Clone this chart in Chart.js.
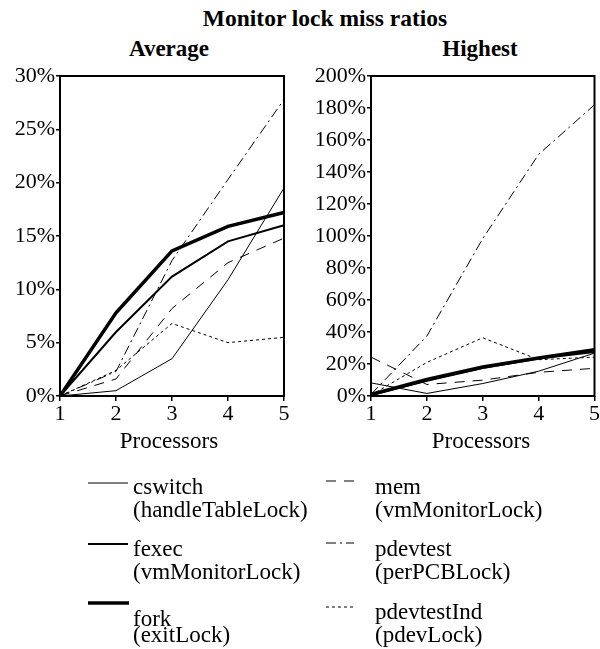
<!DOCTYPE html>
<html>
<head>
<meta charset="utf-8">
<script src="https://cdn.jsdelivr.net/npm/chart.js@4.4.1/dist/chart.umd.min.js"></script>
<style>
  body { margin: 0; background: #fff; }
  #page { position: relative; width: 600px; height: 649px; color: #000; }
  .txt { position: absolute; white-space: nowrap; transform: translateY(-50%); font-family: 'Liberation Serif', 'Times New Roman', serif; font-size: 23px; line-height: 1; }
  .ctr { transform: translate(-50%, -50%); }
  .bold { font-weight: bold; font-size: 23px; }
  .title { font-size: 23.5px; }
  .box { position: absolute; }
  svg { position: absolute; left: 0; top: 0; }
</style>
</head>
<body>
<div id="page">
  <div class="txt ctr bold title" style="left:325px; top:19px;">Monitor lock miss ratios</div>
  <div class="txt ctr bold" style="left:169px; top:48px;">Average</div>
  <div class="txt ctr bold" style="left:480px; top:48px;">Highest</div>

  <div class="box" style="left:0; top:60px; width:300px; height:370px;"><canvas id="avgChart"></canvas></div>
  <div class="box" style="left:300px; top:60px; width:300px; height:370px;"><canvas id="hiChart"></canvas></div>

  <div class="txt ctr" style="left:169px; top:440px;">Processors</div>
  <div class="txt ctr" style="left:481px; top:440px;">Processors</div>

  <svg width="600" height="649" id="legendLines"></svg>
  <div class="txt" style="left:133px; top:486px;">cswitch</div>
  <div class="txt" style="left:133px; top:509px;">(handleTableLock)</div>
  <div class="txt" style="left:133px; top:548px;">fexec</div>
  <div class="txt" style="left:133px; top:571px;">(vmMonitorLock)</div>
  <div class="txt" style="left:133px; top:618px;">fork</div>
  <div class="txt" style="left:133px; top:634px;">(exitLock)</div>

  <div class="txt" style="left:375px; top:486px;">mem</div>
  <div class="txt" style="left:375px; top:509px;">(vmMonitorLock)</div>
  <div class="txt" style="left:375px; top:548px;">pdevtest</div>
  <div class="txt" style="left:375px; top:571px;">(perPCBLock)</div>
  <div class="txt" style="left:375px; top:611px;">pdevtestInd</div>
  <div class="txt" style="left:375px; top:634px;">(pdevLock)</div>
</div>

<script>
// x categories
const processors = [1, 2, 3, 4, 5];

// Average miss ratio (%)
const avgCswitch = [0, 0.5, 3.5, 10.9, 19.5];
const avgFexec = [0, 6.0, 11.2, 14.5, 16.0];
const avgFork = [0, 7.8, 13.6, 15.9, 17.2];
const avgMem = [0, 1.6, 8.2, 12.5, 14.8];
const avgPdevtest = [0, 2.3, 12.7, 20.3, 27.8];
const avgPdevtestInd = [0, 2.4, 6.8, 5.0, 5.5];

// Highest miss ratio (%)
const hiCswitch = [8.2, 1.6, 7.8, 15.5, 26.8];
const hiFexec = [0.5, 9.5, 17.5, 23.5, 27.5];
const hiFork = [1.0, 10.3, 18.1, 23.7, 28.9];
const hiMem = [24.3, 7.2, 9.9, 14.8, 17.3];
const hiPdevtest = [1.0, 37.5, 98.4, 151, 182];
const hiPdevtestInd = [0.5, 21, 36.4, 22.7, 24.3];

// tick labels
const avgTicks = [0, 5, 10, 15, 20, 25, 30];
const hiTicks = [0, 20, 40, 60, 80, 100, 120, 140, 160, 180, 200];

// line styles per series
const styles = {
    cswitch: { width: 1, dash: [] },
    fexec: { width: 2, dash: [] },
    fork: { width: 3.5, dash: [] },
    mem: { width: 1, dash: [10, 8] },
    pdevtest: { width: 1, dash: [10, 4, 2, 4] },
    pdevtestInd: { width: 1, dash: [3, 3] }
};

Chart.defaults.font.family = "'Liberation Serif', 'Times New Roman', serif";
Chart.defaults.color = '#000';

function makeSet(name, values) {
    return {
        label: name,
        data: values,
        borderColor: '#000',
        borderWidth: styles[name].width,
        borderDash: styles[name].dash,
        pointRadius: 0,
        tension: 0,
        fill: false
    };
}

// draw the box around the plot area
const frame = {
    id: 'frame',
    afterDraw(chart) {
        const a = chart.chartArea;
        const ctx = chart.ctx;
        ctx.save();
        ctx.strokeStyle = '#000';
        ctx.lineWidth = 2;
        ctx.strokeRect(a.left, a.top, a.right - a.left, a.bottom - a.top);
        ctx.restore();
    }
};

function buildChart(id, sets, ticks, yWidth, rightPad) {
    const canvas = document.getElementById(id);
    canvas.width = 300;
    canvas.height = 370;
    return new Chart(canvas.getContext('2d'), {
        type: 'line',
        data: { labels: processors, datasets: sets },
        plugins: [frame],
        options: {
            responsive: false,
            animation: false,
            maintainAspectRatio: false,
            layout: { padding: { top: 16, right: rightPad, left: 0, bottom: 0 } },
            plugins: { legend: { display: false }, tooltip: { enabled: false } },
            scales: {
                x: {
                    offset: false,
                    grid: { drawOnChartArea: false, tickLength: 5, color: '#000', lineWidth: 1.5 },
                    border: { display: false },
                    ticks: { padding: 0, maxRotation: 0, font: { size: 22 } },
                    afterFit(scale) { scale.height = 34; }
                },
                y: {
                    min: ticks[0],
                    max: ticks[ticks.length - 1],
                    afterBuildTicks(scale) { scale.ticks = ticks.map(v => ({ value: v })); },
                    grid: { drawOnChartArea: false, tickLength: 4, color: '#000', lineWidth: 1.5 },
                    border: { display: false },
                    ticks: {
                        padding: 1,
                        font: { size: 22 },
                        callback: v => v + '%'
                    },
                    afterFit(scale) { scale.width = yWidth; }
                }
            }
        }
    });
}

function drawAll() {
    buildChart('avgChart', [
        makeSet('cswitch', avgCswitch),
        makeSet('fexec', avgFexec),
        makeSet('fork', avgFork),
        makeSet('mem', avgMem),
        makeSet('pdevtest', avgPdevtest),
        makeSet('pdevtestInd', avgPdevtestInd)
    ], avgTicks, 60, 16);

    buildChart('hiChart', [
        makeSet('cswitch', hiCswitch),
        makeSet('fexec', hiFexec),
        makeSet('fork', hiFork),
        makeSet('mem', hiMem),
        makeSet('pdevtest', hiPdevtest),
        makeSet('pdevtestInd', hiPdevtestInd)
    ], hiTicks, 71, 5);
}

// legend samples
const legendItems = [
    { name: 'cswitch', x1: 88, x2: 128, y: 483 },
    { name: 'fexec', x1: 88, x2: 128, y: 544 },
    { name: 'fork', x1: 88, x2: 129, y: 603 },
    { name: 'mem', x1: 326, x2: 354, y: 481 },
    { name: 'pdevtest', x1: 326, x2: 354, y: 543 },
    { name: 'pdevtestInd', x1: 326, x2: 354, y: 607 }
];
const svg = document.getElementById('legendLines');
legendItems.forEach(item => {
    const line = document.createElementNS('http://www.w3.org/2000/svg', 'line');
    line.setAttribute('x1', item.x1);
    line.setAttribute('x2', item.x2);
    line.setAttribute('y1', item.y);
    line.setAttribute('y2', item.y);
    line.setAttribute('stroke', '#000');
    line.setAttribute('stroke-width', styles[item.name].width);
    if (styles[item.name].dash.length) {
        line.setAttribute('stroke-dasharray', styles[item.name].dash.join(' '));
    }
    svg.appendChild(line);
});

if (document.fonts && document.fonts.load) {
    document.fonts.load("22px 'Liberation Serif'").then(drawAll, drawAll);
} else {
    drawAll();
}
</script>
</body>
</html>
